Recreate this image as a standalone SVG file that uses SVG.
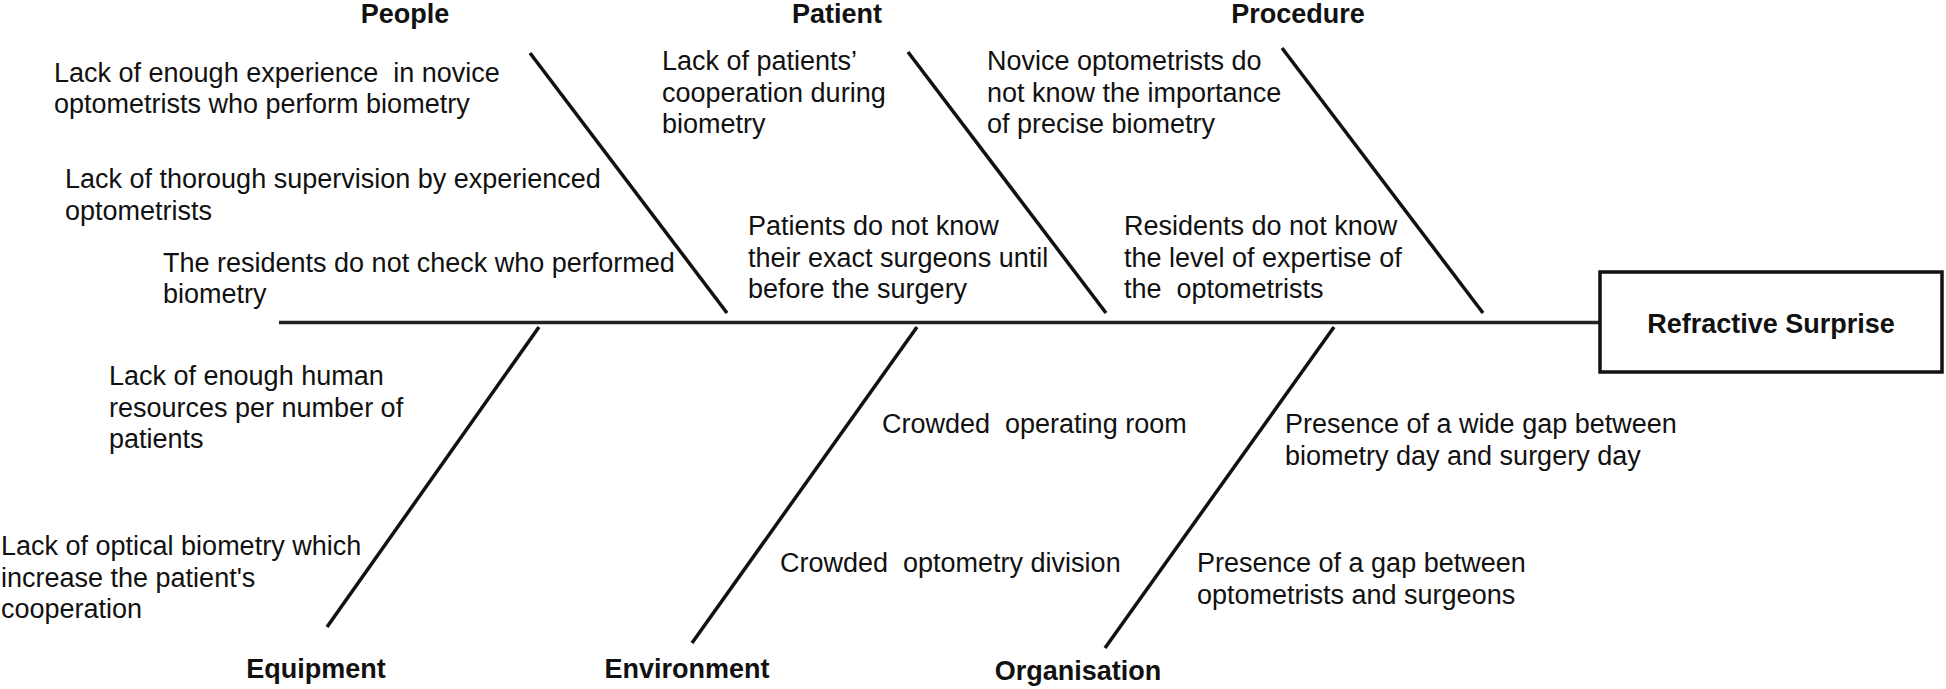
<svg xmlns="http://www.w3.org/2000/svg" width="1946" height="689" viewBox="0 0 1946 689" xml:space="preserve">
<style>
text{font-family:"Liberation Sans",Arial,sans-serif;font-size:27px;fill:#111;white-space:pre}
.h{font-weight:bold;text-anchor:middle}
.b{font-weight:bold}
.ln{stroke:#111;stroke-width:3.5;fill:none;stroke-linecap:butt}
.spine{stroke:#222;stroke-width:3.5}
</style>
<rect width="1946" height="689" fill="#fff"/>
<g id="connectors">
<line class="ln spine" x1="279" y1="322.5" x2="1600" y2="322.5"/>
<line class="ln" x1="530" y1="53" x2="727" y2="313"/>
<line class="ln" x1="908" y1="52" x2="1106" y2="313"/>
<line class="ln" x1="1282" y1="48" x2="1483" y2="313"/>
<line class="ln" x1="539" y1="327" x2="327" y2="627"/>
<line class="ln" x1="917" y1="327" x2="692" y2="643"/>
<line class="ln" x1="1334" y1="327" x2="1105" y2="648"/>
</g>
<g id="people">
<text class="h" x="405" y="23">People</text>
<text x="54" y="82">Lack of enough experience  in novice</text>
<text x="54" y="113">optometrists who perform biometry</text>
<text x="65" y="188">Lack of thorough supervision by experienced</text>
<text x="65" y="220">optometrists</text>
<text x="163" y="272">The residents do not check who performed</text>
<text x="163" y="303">biometry</text>
</g>
<g id="patient">
<text class="h" x="837" y="23">Patient</text>
<text x="662" y="70">Lack of patients’</text>
<text x="662" y="101.5">cooperation during</text>
<text x="662" y="133">biometry</text>
<text x="748" y="235">Patients do not know</text>
<text x="748" y="267">their exact surgeons until</text>
<text x="748" y="298">before the surgery</text>
</g>
<g id="procedure">
<text class="h" x="1298" y="23">Procedure</text>
<text x="987" y="70">Novice optometrists do</text>
<text x="987" y="101.5">not know the importance</text>
<text x="987" y="133">of precise biometry</text>
<text x="1124" y="235">Residents do not know</text>
<text x="1124" y="267">the level of expertise of</text>
<text x="1124" y="298">the  optometrists</text>
</g>
<g id="equipment">
<text x="109" y="385">Lack of enough human</text>
<text x="109" y="417">resources per number of</text>
<text x="109" y="448">patients</text>
<text x="1" y="555">Lack of optical biometry which</text>
<text x="1" y="587">increase the patient's</text>
<text x="1" y="618">cooperation</text>
<text class="h" x="316" y="678">Equipment</text>
</g>
<g id="environment">
<text x="882" y="433">Crowded  operating room</text>
<text x="780" y="572">Crowded  optometry division</text>
<text class="h" x="687" y="678">Environment</text>
</g>
<g id="organisation">
<text x="1285" y="433">Presence of a wide gap between</text>
<text x="1285" y="465">biometry day and surgery day</text>
<text x="1197" y="572">Presence of a gap between</text>
<text x="1197" y="604">optometrists and surgeons</text>
<text class="h" x="1078" y="680">Organisation</text>
</g>
<g id="refractive-surprise">
<rect x="1600" y="272" width="342" height="100" fill="#fff" stroke="#111" stroke-width="3.5"/>
<text class="h" x="1771" y="333">Refractive Surprise</text>
</g>
</svg>
